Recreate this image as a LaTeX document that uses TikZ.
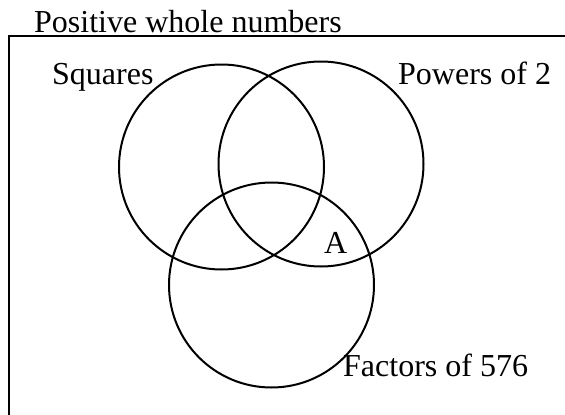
\documentclass[tikz,border=0pt]{standalone}
\usepackage{fontspec}
\setmainfont{Liberation Serif}
\begin{document}
\begin{tikzpicture}[x=1pt,y=-1pt,
  setc/.style={circle,draw,line width=2pt,minimum size=205pt,inner sep=0pt},
  lbl/.style={anchor=base west,inner sep=0pt,font=\fontsize{32}{32}\selectfont}]
\useasboundingbox (0,0) rectangle (565,415);
\coordinate (tr) at (565,36);
\coordinate (tl) at (9,36);
\coordinate (bl) at (9,415);
\draw[line width=1.8pt] (tr) -- (tl) -- (bl);
\node[lbl] (univ) at (34,32) {Positive whole numbers};
\node[setc] (sq) at (221.5,167) {};
\node[setc] (pw) at (321,164) {};
\node[setc] (fc) at (271.5,285) {};
\node[lbl] (lsq) at (52,84) {Squares};
\node[lbl] (lpw) at (398,84) {Powers of 2};
\node[lbl] (la) at (324,253) {A};
\node[lbl] (lfc) at (343,376) {Factors of 576};
\end{tikzpicture}
\end{document}
